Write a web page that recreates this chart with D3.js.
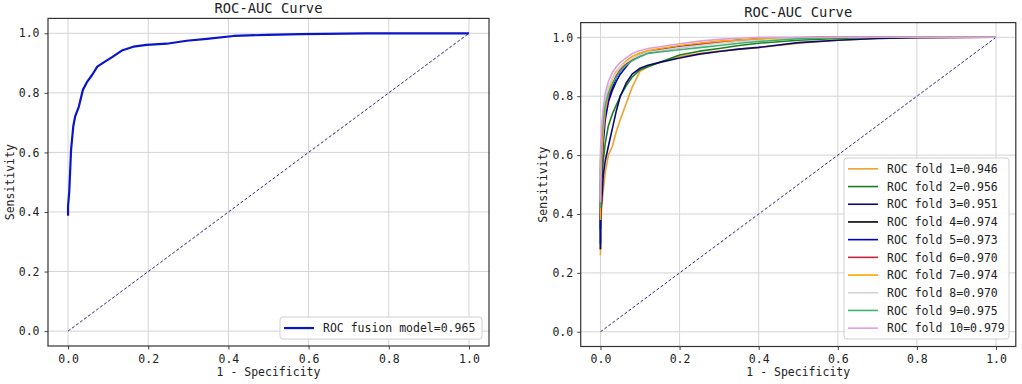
<!DOCTYPE html>
<html>
<head>
<meta charset="utf-8">
<script src="https://cdn.jsdelivr.net/npm/d3@7"></script>
<style>
  body { margin: 0; background: #fff; }
  svg text { font-family: "DejaVu Sans Mono", monospace; fill: #222; }
</style>
</head>
<body>
<div id="chart"></div>
<script>
// left panel: fusion model ROC
const fusionFpr = [0, 0, 0.003, 0.0075, 0.013, 0.0175, 0.027, 0.037, 0.048, 0.06, 0.073, 0.092, 0.109, 0.134, 0.163, 0.196, 0.246, 0.296, 0.346, 0.413, 0.496, 0.58, 0.745, 1];
const fusionTpr = [0.387, 0.42, 0.467, 0.608, 0.687, 0.72, 0.754, 0.81, 0.838, 0.86, 0.888, 0.905, 0.919, 0.942, 0.955, 0.961, 0.965, 0.975, 0.981, 0.991, 0.995, 0.997, 1, 1];
const fusionLabel = "ROC fusion model=0.965";

// right panel: 10 folds, shared fpr grid
const foldFpr = [0, 0, 0.003, 0.007, 0.012, 0.02, 0.03, 0.04, 0.05, 0.065, 0.08, 0.1, 0.12, 0.15, 0.2, 0.25, 0.3, 0.35, 0.4, 0.5, 0.6, 0.7, 0.8, 1];
const fold1Tpr = [0.26, 0.36, 0.42, 0.48, 0.54, 0.6, 0.63, 0.68, 0.72, 0.775, 0.83, 0.885, 0.9, 0.915, 0.935, 0.945, 0.953, 0.96, 0.965, 0.98, 0.99, 0.996, 0.999, 1];
const fold2Tpr = [0.28, 0.42, 0.5, 0.58, 0.64, 0.7, 0.74, 0.77, 0.8, 0.835, 0.865, 0.89, 0.9, 0.915, 0.94, 0.953, 0.962, 0.972, 0.98, 0.99, 0.996, 1, 1, 1];
const fold3Tpr = [0.28, 0.4, 0.44, 0.53, 0.58, 0.63, 0.69, 0.75, 0.8, 0.845, 0.875, 0.895, 0.905, 0.915, 0.93, 0.943, 0.952, 0.96, 0.966, 0.982, 0.99, 0.996, 0.999, 1];
const fold4Tpr = [0.35, 0.5, 0.6, 0.68, 0.74, 0.79, 0.83, 0.865, 0.885, 0.91, 0.925, 0.94, 0.95, 0.958, 0.968, 0.978, 0.985, 0.99, 0.994, 0.998, 1, 1, 1, 1];
const fold5Tpr = [0.3, 0.45, 0.55, 0.64, 0.72, 0.78, 0.82, 0.85, 0.875, 0.9, 0.925, 0.935, 0.948, 0.955, 0.967, 0.977, 0.985, 0.99, 0.994, 0.998, 1, 1, 1, 1];
const fold6Tpr = [0.4, 0.55, 0.62, 0.69, 0.75, 0.8, 0.84, 0.87, 0.89, 0.91, 0.925, 0.94, 0.95, 0.957, 0.965, 0.975, 0.983, 0.988, 0.993, 0.997, 1, 1, 1, 1];
const fold7Tpr = [0.38, 0.47, 0.58, 0.68, 0.75, 0.81, 0.86, 0.885, 0.9, 0.92, 0.935, 0.947, 0.955, 0.962, 0.972, 0.98, 0.987, 0.991, 0.995, 0.999, 1, 1, 1, 1];
const fold8Tpr = [0.45, 0.62, 0.7, 0.75, 0.79, 0.83, 0.86, 0.88, 0.9, 0.915, 0.928, 0.94, 0.95, 0.955, 0.965, 0.972, 0.98, 0.986, 0.99, 0.996, 1, 1, 1, 1];
const fold9Tpr = [0.42, 0.58, 0.66, 0.72, 0.77, 0.81, 0.84, 0.865, 0.885, 0.905, 0.92, 0.935, 0.945, 0.95, 0.958, 0.965, 0.972, 0.98, 0.986, 0.995, 0.999, 1, 1, 1];
const fold10Tpr = [0.44, 0.6, 0.69, 0.76, 0.81, 0.85, 0.88, 0.9, 0.915, 0.93, 0.945, 0.955, 0.962, 0.968, 0.978, 0.987, 0.993, 0.997, 1, 1, 1, 1, 1, 1];
const foldAuc = ["0.946", "0.956", "0.951", "0.974", "0.973", "0.970", "0.974", "0.970", "0.975", "0.979"];

const tickValues = [0, 0.2, 0.4, 0.6, 0.8, 1.0];

const foldColors = ["#f0a030", "#1f7f1f", "#0b0b6e", "#000000", "#0000cd", "#c8253f", "#ffa500", "#d3d3d3", "#3cb371", "#dda0dd"];
const foldTprs = [fold1Tpr, fold2Tpr, fold3Tpr, fold4Tpr, fold5Tpr, fold6Tpr, fold7Tpr, fold8Tpr, fold9Tpr, fold10Tpr];

const svg = d3.select("#chart").append("svg")
  .attr("width", 1022)
  .attr("height", 384);

function drawPanel(cfg) {
  const x = d3.scaleLinear().domain([-0.05, 1.05]).range([cfg.left, cfg.right]);
  const y = d3.scaleLinear().domain([-0.05, 1.05]).range([cfg.bottom, cfg.top]);
  const g = svg.append("g");

  // grid
  g.append("g").selectAll("line.gx").data(tickValues).enter().append("line")
    .attr("x1", d => x(d)).attr("x2", d => x(d))
    .attr("y1", cfg.top).attr("y2", cfg.bottom)
    .attr("stroke", "#d4d4d8").attr("stroke-width", 1);
  g.append("g").selectAll("line.gy").data(tickValues).enter().append("line")
    .attr("y1", d => y(d)).attr("y2", d => y(d))
    .attr("x1", cfg.left).attr("x2", cfg.right)
    .attr("stroke", "#d4d4d8").attr("stroke-width", 1);

  // axes
  const xAxis = g.append("g")
    .attr("transform", "translate(0," + cfg.bottom + ")")
    .call(d3.axisBottom(x).tickValues(tickValues).tickFormat(d3.format(".1f")).tickSize(3.5).tickPadding(5).tickSizeOuter(0));
  const yAxis = g.append("g")
    .attr("transform", "translate(" + cfg.left + ",0)")
    .call(d3.axisLeft(y).tickValues(tickValues).tickFormat(d3.format(".1f")).tickSize(3.5).tickPadding(cfg.ypad).tickSizeOuter(0));
  [xAxis, yAxis].forEach(a => {
    a.select(".domain").remove();
    a.selectAll("line").attr("stroke", "#444");
    a.selectAll("text").attr("font-size", 11.5).attr("font-family", "DejaVu Sans Mono").attr("fill", "#222");
  });

  // diagonal
  g.append("path")
    .datum([[0, 0], [1, 1]])
    .attr("d", d3.line().x(d => x(d[0])).y(d => y(d[1])))
    .attr("fill", "none")
    .attr("stroke", "#2a2a7a")
    .attr("stroke-width", 1)
    .attr("stroke-dasharray", "3,2");

  // curves
  const line = d3.line().x(d => x(d[0])).y(d => y(d[1]));
  cfg.series.forEach(s => {
    g.append("path")
      .datum(s.fpr.map((v, i) => [v, s.tpr[i]]))
      .attr("d", line)
      .attr("fill", "none")
      .attr("stroke", s.color)
      .attr("stroke-width", s.width)
      .attr("stroke-linejoin", "round");
  });

  // frame
  g.append("rect")
    .attr("x", cfg.left).attr("y", cfg.top)
    .attr("width", cfg.right - cfg.left).attr("height", cfg.bottom - cfg.top)
    .attr("fill", "none").attr("stroke", "#333").attr("stroke-width", 1.2);

  // title + labels
  g.append("text")
    .attr("x", (cfg.left + cfg.right) / 2).attr("y", cfg.top - 5.5)
    .attr("text-anchor", "middle").attr("font-size", 13.8)
    .text("ROC-AUC Curve");
  g.append("text")
    .attr("x", (cfg.left + cfg.right) / 2).attr("y", 376)
    .attr("text-anchor", "middle").attr("font-size", 11.5)
    .text("1 - Specificity");
  g.append("text")
    .attr("transform", "translate(" + cfg.ylabelX + "," + (cfg.top + cfg.bottom) / 2 + ") rotate(-90)")
    .attr("text-anchor", "middle").attr("font-size", 11.5)
    .text("Sensitivity");

  // legend
  const L = cfg.legend;
  const lg = g.append("g");
  lg.append("rect")
    .attr("x", L.x).attr("y", L.y)
    .attr("width", L.w).attr("height", L.rowH * cfg.series.length + L.padY * 2)
    .attr("rx", 3)
    .attr("fill", "rgba(255,255,255,0.85)")
    .attr("stroke", "#d0d0d0");
  cfg.series.forEach((s, i) => {
    const cy = L.y + L.padY + L.rowH * i + L.rowH / 2;
    lg.append("line")
      .attr("x1", L.x + 4).attr("x2", L.x + 34)
      .attr("y1", cy).attr("y2", cy)
      .attr("stroke", s.color).attr("stroke-width", s.width);
    lg.append("text")
      .attr("x", L.x + 43).attr("y", cy + 4.2)
      .attr("font-size", 11.5)
      .text(s.label);
  });
}

drawPanel({
  left: 48, right: 489, top: 18.4, bottom: 346,
  ypad: 5, ylabelX: 14,
  legend: { x: 280, y: 317, w: 202, rowH: 17.7, padY: 2.2 },
  series: [{ fpr: fusionFpr, tpr: fusionTpr, color: "#0a14c8", width: 2.2, label: fusionLabel }]
});

drawPanel({
  left: 580.7, right: 1015.8, top: 22.6, bottom: 346.5,
  ypad: 4, ylabelX: 547,
  legend: { x: 844, y: 158, w: 165, rowH: 17.7, padY: 2 },
  series: foldTprs.map((t, i) => ({
    fpr: foldFpr, tpr: t, color: foldColors[i], width: 1.6,
    label: "ROC fold " + (i + 1) + "=" + foldAuc[i]
  }))
});
</script>
</body>
</html>
